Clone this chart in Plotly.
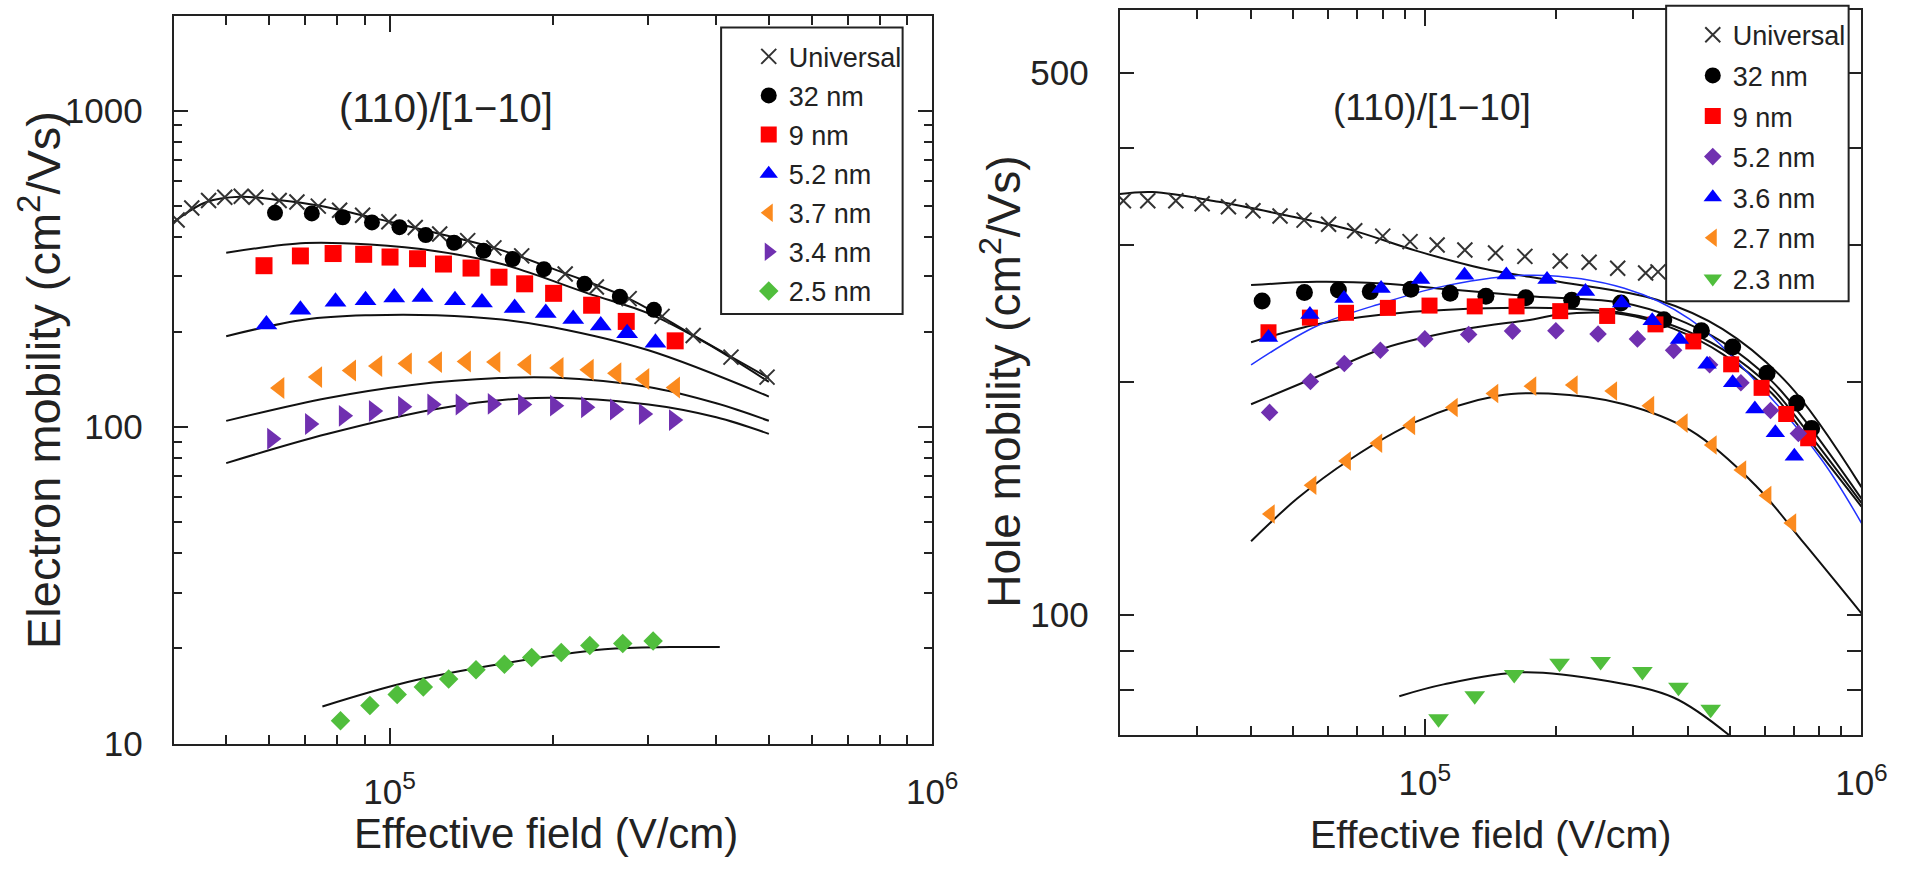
import math
import plotly.graph_objects as go

W, H = 1921, 877
FONT = "Liberation Sans, Arial, sans-serif"

# ================= LEFT PANEL : electron mobility =================
L_UNIV_E = [4.06e4, 4.32e4, 4.64e4, 4.97e4, 5.33e4, 5.67e4, 6.26e4, 6.75e4, 7.39e4, 8.09e4, 8.92e4,
            9.97e4, 1.115e5, 1.237e5, 1.393e5, 1.557e5, 1.752e5, 2.107e5, 2.405e5, 2.764e5, 3.178e5,
            3.627e5, 4.258e5, 4.962e5]
L_UNIV_MU = [452, 493, 521, 533, 537, 533, 521, 515, 500, 485, 468, 446, 428, 408, 389, 369, 348,
             305, 277.5, 255, 224, 195, 166.5, 144]

L_32_E = [6.15e4, 7.19e4, 8.2e4, 9.28e4, 1.043e5, 1.166e5, 1.315e5, 1.49e5, 1.686e5, 1.925e5, 2.287e5, 2.657e5, 3.07e5]
L_32_MU = [476, 474, 461, 444, 429, 405, 383, 361, 340, 316, 284, 258.5, 235]

L_9_E = [5.87e4, 6.85e4, 7.87e4, 8.96e4, 1.002e5, 1.126e5, 1.257e5, 1.413e5, 1.591e5, 1.774e5, 2.006e5, 2.357e5, 2.73e5, 3.36e5]
L_9_MU = [324, 348, 354, 352, 345, 341, 328, 318.5, 298, 284, 265, 243, 216, 187.5]

L_52_E = [5.93e4, 6.85e4, 7.95e4, 9.03e4, 1.02e5, 1.15e5, 1.32e5, 1.48e5, 1.70e5, 1.94e5, 2.18e5, 2.45e5, 2.74e5, 3.09e5]
L_52_MU = [211, 235, 249, 252, 257, 258, 252, 248, 238, 229.5, 220, 209.6, 198, 185]

L_37_E = [6.27e4, 7.36e4, 8.5e4, 9.5e4, 1.077e5, 1.224e5, 1.384e5, 1.568e5, 1.787e5, 2.05e5, 2.33e5, 2.62e5, 2.95e5, 3.36e5]
L_37_MU = [133, 144, 151, 156, 159, 160.6, 161.4, 160.6, 157.6, 154, 152, 148, 142, 133.5]

L_34_E = [6.07e4, 7.13e4, 8.23e4, 9.35e4, 1.058e5, 1.198e5, 1.351e5, 1.548e5, 1.76e5, 2.016e5, 2.30e5, 2.60e5, 2.94e5, 3.34e5]
L_34_MU = [92, 102.3, 108.6, 112.5, 116, 118, 118, 118.5, 118, 117, 115.7, 113.8, 110, 105.3]

L_25_E = [8.12e4, 9.2e4, 1.033e5, 1.154e5, 1.285e5, 1.443e5, 1.628e5, 1.828e5, 2.072e5, 2.339e5, 2.69e5, 3.06e5]
L_25_MU = [11.8, 13.2, 14.3, 15.1, 16.0, 17.1, 17.8, 18.7, 19.4, 20.4, 20.7, 21.1]

# fitted curves (left)
LF_UNIV_E = [4.0e4, 4.6e4, 5.3e4, 6.3e4, 7.4e4, 8.9e4, 1.0e5, 1.24e5, 1.56e5, 2.1e5, 2.76e5, 3.63e5, 4.26e5, 5.0e5]
LF_UNIV_MU = [445, 515, 535, 522, 502, 468, 446, 408, 369, 307, 255, 195, 167, 143]
LF_9_E = [5.0e4, 7.0e4, 9.2e4, 1.22e5, 1.61e5, 2.32e5, 3.0e5, 3.82e5, 5.0e5]
LF_9_MU = [356, 382, 378, 360, 328, 265, 229, 185, 139]
LF_52_E = [5.0e4, 7.0e4, 9.2e4, 1.22e5, 1.61e5, 2.0e5, 3.0e5, 5.0e5]
LF_52_MU = [194, 219, 226, 226, 219, 207, 175, 125]
LF_37_E = [5.0e4, 7.7e4, 1.1e5, 1.59e5, 2.0e5, 3.0e5, 4.0e5, 5.0e5]
LF_37_MU = [104.7, 123.7, 136, 143, 143.5, 134, 119, 104.8]
LF_34_E = [5.0e4, 7.7e4, 1.25e5, 1.86e5, 3.0e5, 4.0e5, 5.0e5]
LF_34_MU = [77, 95.3, 115, 123.7, 118, 107.5, 95.3]
LF_25_E = [7.52e4, 1.08e5, 1.64e5, 2.49e5, 3.29e5, 4.06e5]
LF_25_MU = [13.1, 15.65, 17.97, 19.86, 20.18, 20.18]

# ================= RIGHT PANEL : hole mobility =================
R_UNIV_E = [2.04e4, 2.32e4, 2.69e4, 3.09e4, 3.55e4, 4.04e4, 4.66e4, 5.29e4, 6.02e4, 6.91e4, 8.01e4,
            9.25e4, 1.067e5, 1.235e5, 1.452e5, 1.695e5, 2.042e5, 2.378e5, 2.765e5, 3.204e5, 3.42e5]
R_UNIV_MU = [342, 342, 342, 339, 336, 332, 327, 323, 319, 313, 308, 303, 300, 295.5, 293, 290, 286,
             285, 280, 276, 277]

R_32_E = [4.24e4, 5.30e4, 6.34e4, 7.50e4, 9.29e4, 1.143e5, 1.38e5, 1.703e5, 2.17e5, 2.813e5, 3.526e5,
          4.30e5, 5.07e5, 6.08e5, 7.11e5, 7.69e5]
R_32_MU = [254, 260.5, 262.4, 261.2, 263, 260, 257.7, 256.5, 254.5, 252.6, 240.2, 232.6, 221.6, 205, 187.6, 174]

R_9_E = [4.385e4, 5.455e4, 6.6e4, 8.23e4, 1.025e5, 1.301e5, 1.622e5, 2.042e5, 2.616e5, 3.375e5, 4.12e5,
         5.03e5, 5.906e5, 6.725e5, 7.55e5]
R_9_MU = [231.5, 241.8, 245.3, 248.9, 250.6, 250, 250, 246.5, 243, 237, 225.3, 210.5, 196.3, 181.7, 169]

R_52_E = [4.41e4, 5.47e4, 6.54e4, 7.91e4, 1.0e5, 1.26e5, 1.588e5, 1.996e5, 2.493e5, 3.068e5, 3.713e5,
          4.49e5, 5.295e5, 6.19e5, 7.17e5]
R_52_MU = [182.5, 200, 211, 219.5, 227, 230, 232.3, 232.6, 230.3, 227, 219.4, 210.2, 199.3, 183.5, 171.4]

R_36_E = [4.385e4, 5.455e4, 6.53e4, 7.94e4, 9.78e4, 1.233e5, 1.537e5, 1.905e5, 2.333e5, 2.823e5, 3.317e5,
          3.83e5, 4.43e5, 5.07e5, 5.70e5, 6.35e5, 7.02e5]
R_36_MU = [228, 244, 256, 263.7, 270.7, 274.2, 274.5, 270.7, 261.2, 252.5, 239.5, 226.6, 210.5, 199.3,
           184.4, 171.8, 160.2]

R_27_E = [4.43e4, 5.52e4, 6.62e4, 7.81e4, 9.29e4, 1.163e5, 1.44e5, 1.76e5, 2.189e5, 2.695e5, 3.278e5,
          3.91e5, 4.555e5, 5.325e5, 6.08e5, 6.93e5]
R_27_MU = [135, 147, 158, 166.5, 175.6, 185.2, 193, 197.3, 198, 194.5, 186.2, 176.8, 165.7, 153.8, 142.6, 131.4]

R_23_E = [1.075e5, 1.301e5, 1.602e5, 2.035e5, 2.527e5, 3.15e5, 3.81e5, 4.515e5]
R_23_MU = [73.5, 78.7, 83.8, 86.7, 87.1, 84.6, 80.7, 75.6]

# fitted curves (right)
RF_UNIV_E = [2.0e4, 2.38e4, 3.37e4, 4.76e4, 6.74e4, 9.53e4, 1.35e5, 2.03e5, 3.4e5, 4.81e5, 6.81e5, 1.0e6]
RF_UNIV_MU = [349, 351, 341, 328, 314, 295, 280, 269, 255, 233.7, 198.3, 146.2]
RF_32_E = [4.0e4, 5.66e4, 8.0e4, 1.133e5, 1.78e5, 2.86e5, 3.71e5, 4.81e5, 6.24e5, 7.42e5, 1.0e6]
RF_32_MU = [266.3, 268.9, 267.6, 263, 257.5, 252.5, 241.8, 224.8, 200.1, 178.2, 141.3]
RF_9_E = [4.0e4, 5.67e4, 8.01e4, 1.133e5, 1.78e5, 2.86e5, 3.71e5, 4.81e5, 6.24e5, 7.42e5, 1.0e6]
RF_9_MU = [224.8, 237.1, 244.1, 247.6, 248.9, 245, 236, 220, 196, 174, 139.5]
RF_52_E = [4.0e4, 5.47e4, 8.01e4, 1.236e5, 1.778e5, 2.025e5, 2.863e5, 3.71e5, 4.81e5, 6.24e5, 7.42e5, 1.0e6]
RF_52_MU = [187, 201.2, 220.5, 233.7, 240.6, 244.1, 244, 234, 217, 193, 171, 138]
RF_36_E = [4.0e4, 5.67e4, 8.01e4, 1.133e5, 1.778e5, 2.863e5, 4.05e5, 5.73e5, 8.1e5, 1.0e6]
RF_36_MU = [210.1, 236, 252.5, 266.3, 274.2, 263.8, 240.6, 200.1, 158.7, 131.4]
RF_27_E = [4.0e4, 5.1e4, 6.74e4, 9.53e4, 1.47e5, 1.92e5, 2.86e5, 4.05e5, 5.73e5, 7.42e5, 1.0e6]
RF_27_MU = [124.5, 141.3, 158.7, 177.4, 191.7, 193, 187, 173.1, 146.8, 123.4, 100.5]
RF_23_E = [8.74e4, 1.104e5, 1.673e5, 2.62e5, 3.71e5, 4.98e5]
RF_23_MU = [78.6, 81.4, 84.4, 82.2, 78.3, 70.0]

# tick labels
X_TICKS = [1e5, 1e6]
X_TICKTEXT = ["10<sup>5</sup>", "10<sup>6</sup>"]
L_Y_TICKS = [10, 100, 1000]
L_Y_TICKTEXT = ["10", "100", "1000"]
R_Y_TICKS = [80, 90, 100, 200, 300, 400, 500]
R_Y_TICKTEXT = ["", "", "100", "", "", "", "500"]
L_X_MINOR = [5e4, 6e4, 7e4, 8e4, 9e4, 2e5, 3e5, 4e5, 5e5, 6e5, 7e5, 8e5, 9e5]
R_X_MINOR = [3e4, 4e4, 5e4, 6e4, 7e4, 8e4, 9e4, 2e5, 3e5, 4e5, 5e5, 6e5, 7e5, 8e5, 9e5]
L_Y_MINOR = [20, 30, 40, 50, 60, 70, 80, 90, 200, 300, 400, 500, 600, 700, 800, 900]

# ---------------- styling ----------------
BLACK = "#000000"
RED = "#ff0000"
BLUE = "#0000ff"
ORANGE = "#fb8a1e"
PURPLE = "#7030b0"
GREEN = "#50be3c"
AX = "#222222"


def px(x):
    return x / W


def py(y):
    return 1 - y / H


fig = go.Figure()


def fit(x, y, xa, ya, color="#111111", width=2):
    fig.add_trace(go.Scatter(x=x, y=y, mode="lines", xaxis=xa, yaxis=ya, showlegend=False,
                             hoverinfo="skip", line=dict(color=color, width=width, shape="spline", smoothing=1.0)))


def pts(x, y, xa, ya, name, symbol, color, size, legend, group):
    if symbol == "x-thin":
        marker = dict(symbol=symbol, size=size, color="#333333", line=dict(color="#333333", width=2))
    else:
        marker = dict(symbol=symbol, size=size, color=color, line=dict(width=0))
    fig.add_trace(go.Scatter(x=x, y=y, mode="markers", xaxis=xa, yaxis=ya, name=name, marker=marker,
                             legend=legend, legendgroup=group))


# left fits
fit(LF_UNIV_E, LF_UNIV_MU, "x", "y")
fit(LF_9_E, LF_9_MU, "x", "y")
fit(LF_52_E, LF_52_MU, "x", "y")
fit(LF_37_E, LF_37_MU, "x", "y")
fit(LF_34_E, LF_34_MU, "x", "y")
fit(LF_25_E, LF_25_MU, "x", "y")
# left markers
pts(L_UNIV_E, L_UNIV_MU, "x", "y", "Universal", "x-thin", BLACK, 15, "legend", "l0")
pts(L_32_E, L_32_MU, "x", "y", "32 nm", "circle", BLACK, 16, "legend", "l1")
pts(L_9_E, L_9_MU, "x", "y", "9 nm", "square", RED, 17, "legend", "l2")
pts(L_52_E, L_52_MU, "x", "y", "5.2 nm", "triangle-up", BLUE, 19, "legend", "l3")
pts(L_37_E, L_37_MU, "x", "y", "3.7 nm", "triangle-left", ORANGE, 19, "legend", "l4")
pts(L_34_E, L_34_MU, "x", "y", "3.4 nm", "triangle-right", PURPLE, 19, "legend", "l5")
pts(L_25_E, L_25_MU, "x", "y", "2.5 nm", "diamond", GREEN, 15, "legend", "l6")

# right fits
fit(RF_UNIV_E, RF_UNIV_MU, "x2", "y2")
fit(RF_32_E, RF_32_MU, "x2", "y2")
fit(RF_9_E, RF_9_MU, "x2", "y2")
fit(RF_52_E, RF_52_MU, "x2", "y2")
fit(RF_27_E, RF_27_MU, "x2", "y2")
fit(RF_23_E, RF_23_MU, "x2", "y2")
fit(RF_36_E, RF_36_MU, "x2", "y2", color="#2233ff", width=1.5)
# right markers
pts(R_UNIV_E, R_UNIV_MU, "x2", "y2", "Universal", "x-thin", BLACK, 15, "legend2", "r0")
pts(R_32_E, R_32_MU, "x2", "y2", "32 nm", "circle", BLACK, 17, "legend2", "r1")
pts(R_9_E, R_9_MU, "x2", "y2", "9 nm", "square", RED, 16, "legend2", "r2")
pts(R_52_E, R_52_MU, "x2", "y2", "5.2 nm", "diamond", PURPLE, 13.5, "legend2", "r3")
pts(R_36_E, R_36_MU, "x2", "y2", "3.6 nm", "triangle-up", BLUE, 17, "legend2", "r4")
pts(R_27_E, R_27_MU, "x2", "y2", "2.7 nm", "triangle-left", ORANGE, 17, "legend2", "r5")
pts(R_23_E, R_23_MU, "x2", "y2", "2.3 nm", "triangle-down", GREEN, 18, "legend2", "r6")


def xaxis(domain, rng, minor_vals, anchor):
    return dict(type="log", domain=domain, range=rng, anchor=anchor, showline=True, linecolor=AX,
                linewidth=2, mirror="ticks", ticks="inside", ticklen=16, tickwidth=2, tickcolor=AX,
                tickmode="array", tickvals=X_TICKS, ticktext=X_TICKTEXT,
                tickfont=dict(size=35, family=FONT, color=AX), ticklabelstandoff=16,
                showgrid=False, zeroline=False,
                minor=dict(tickmode="array", tickvals=minor_vals, ticks="inside", ticklen=9,
                           tickwidth=2, tickcolor=AX, showgrid=False))


def yaxis(domain, rng, tv, tt, minor_vals, anchor):
    return dict(type="log", domain=domain, range=rng, anchor=anchor, showline=True, linecolor=AX,
                linewidth=2, mirror="ticks", ticks="inside", ticklen=14, tickwidth=2, tickcolor=AX,
                tickmode="array", tickvals=tv, ticktext=tt,
                tickfont=dict(size=35, family=FONT, color=AX), ticklabelstandoff=22,
                showgrid=False, zeroline=False,
                minor=dict(tickmode="array", tickvals=minor_vals, ticks="inside", ticklen=8,
                           tickwidth=2, tickcolor=AX, showgrid=False))


fig.update_layout(
    width=W, height=H, autosize=False,
    margin=dict(l=0, r=0, t=0, b=0),
    paper_bgcolor="white", plot_bgcolor="white",
    font=dict(family=FONT, color=AX),
    xaxis=xaxis([px(176), px(945)], [math.log10(4e4), 6], L_X_MINOR, "y"),
    yaxis=yaxis([py(760), py(16)], [1, math.log10(2000)], L_Y_TICKS, L_Y_TICKTEXT, L_Y_MINOR, "x"),
    xaxis2=xaxis([px(1135), px(1887)], [math.log10(2e4), 6], R_X_MINOR, "y2"),
    yaxis2=yaxis([py(751.5), py(10)], [math.log10(70), math.log10(603)], R_Y_TICKS, R_Y_TICKTEXT, [], "x2"),
    legend=dict(x=px(759), y=py(33), xanchor="left", yanchor="top", bgcolor="rgba(0,0,0,0)",
                borderwidth=0, font=dict(size=27, family=FONT, color=AX), tracegroupgap=1,
                itemwidth=30, traceorder="grouped"),
    legend2=dict(x=px(1716), y=py(11), xanchor="left", yanchor="top", bgcolor="rgba(0,0,0,0)",
                 borderwidth=0, font=dict(size=27, family=FONT, color=AX), tracegroupgap=2.5,
                 itemwidth=30, traceorder="grouped"),
    shapes=[
        dict(type="rect", xref="paper", yref="paper", x0=px(731), x1=px(915), y0=py(321), y1=py(28),
             line=dict(color=AX, width=2), fillcolor="white", layer="above"),
        dict(type="rect", xref="paper", yref="paper", x0=px(1689), x1=px(1874), y0=py(308), y1=py(6),
             line=dict(color=AX, width=2), fillcolor="white", layer="above"),
    ],
    annotations=[
        dict(text="Electron mobility (cm<sup>2</sup>/Vs)", textangle=-90, xref="paper", yref="paper",
             x=px(40), y=py(388), xanchor="center", yanchor="middle", showarrow=False,
             font=dict(size=47, family=FONT, color=AX)),
        dict(text="Hole mobility (cm<sup>2</sup>/Vs)", textangle=-90, xref="paper", yref="paper",
             x=px(1014), y=py(390), xanchor="center", yanchor="middle", showarrow=False,
             font=dict(size=46, family=FONT, color=AX)),
        dict(text="Effective field (V/cm)", xref="paper", yref="paper", x=px(553), y=py(852),
             xanchor="center", yanchor="middle", showarrow=False, font=dict(size=42, family=FONT, color=AX)),
        dict(text="Effective field (V/cm)", xref="paper", yref="paper", x=px(1511), y=py(852),
             xanchor="center", yanchor="middle", showarrow=False, font=dict(size=39.5, family=FONT, color=AX)),
        dict(text="(110)/[1\u221210]", xref="paper", yref="paper", x=px(452), y=py(110),
             xanchor="center", yanchor="middle", showarrow=False, font=dict(size=40, family=FONT, color=AX)),
        dict(text="(110)/[1\u221210]", xref="paper", yref="paper", x=px(1452), y=py(110),
             xanchor="center", yanchor="middle", showarrow=False, font=dict(size=37, family=FONT, color=AX)),
    ],
)

fig.write_html("out.html")
